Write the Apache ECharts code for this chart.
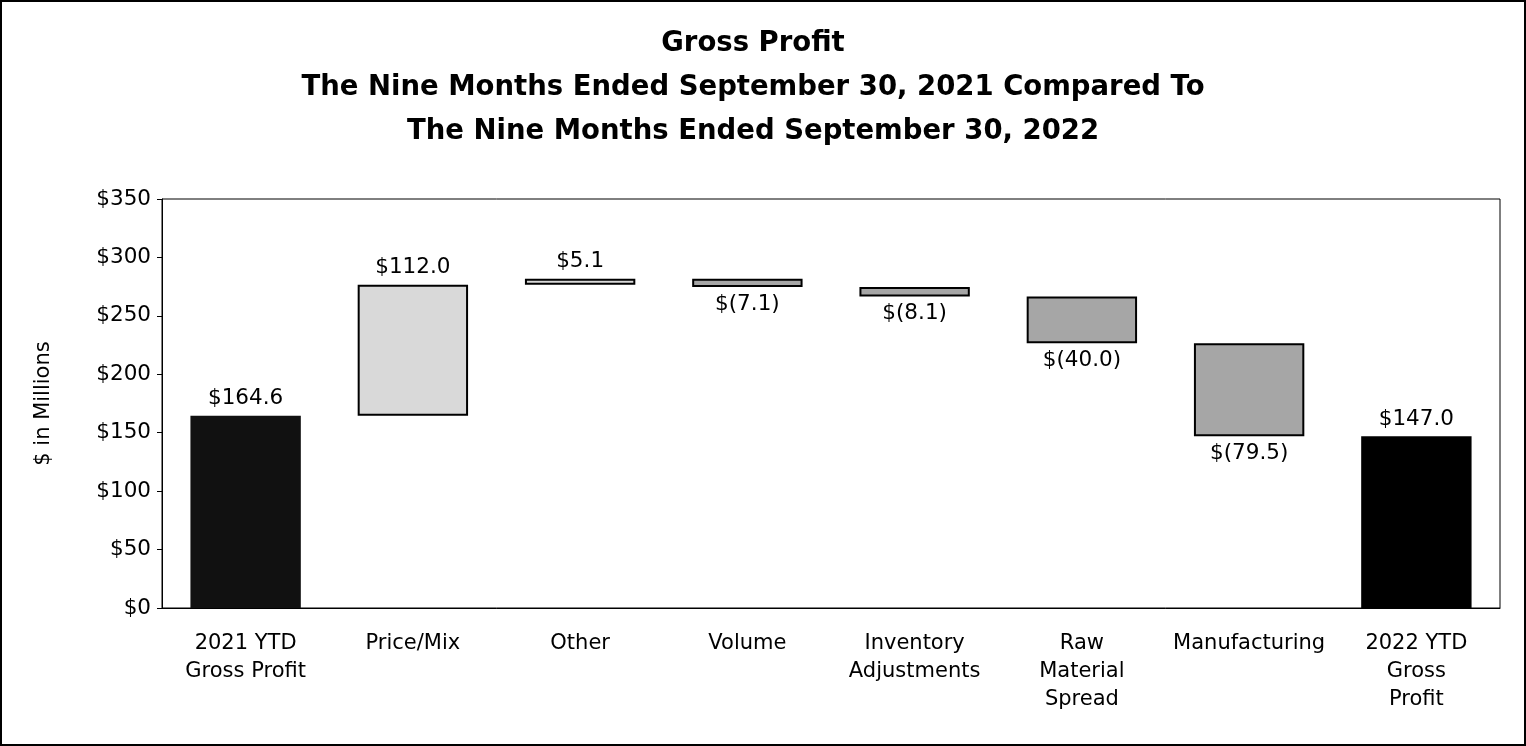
<!DOCTYPE html>
<html>
<head>
<meta charset="utf-8">
<script src="https://cdn.jsdelivr.net/npm/echarts@6/dist/echarts.min.js"></script>
<style>
html,body{margin:0;padding:0;background:#fff;}
#chart{width:1526px;height:746px;}
</style>
</head>
<body>
<div id="chart"></div>
<script>
const categories = ['2021 YTD\nGross Profit', 'Price/Mix', 'Other', 'Volume', 'Inventory\nAdjustments', 'Raw\nMaterial\nSpread', 'Manufacturing', '2022 YTD\nGross\nProfit'];
const startTotal = 164.6;
const deltas = [112.0, 5.1, -7.1, -8.1, -40.0, -79.5];
const endTotal = 147.0;
const yTicks = [0, 50, 100, 150, 200, 250, 300, 350];

const FONT = 'DejaVu Sans';
function fmt(v) {
  const a = Math.abs(v).toFixed(1);
  return v < 0 ? '$(' + a + ')' : '$' + a;
}

const baseData = [];
const visData = [];
baseData.push(0);
visData.push({value: startTotal, raw: startTotal, itemStyle: {color: '#111111', borderWidth: 0}, label: {position: 'top'}});
let running = startTotal;
deltas.forEach(d => {
  const lo = d >= 0 ? running : running + d;
  baseData.push(lo);
  visData.push({
    value: Math.abs(d), raw: d,
    itemStyle: {color: d >= 0 ? '#d9d9d9' : '#a6a6a6', borderColor: '#000', borderWidth: 2},
    label: {position: d >= 0 ? 'top' : 'bottom'}
  });
  running += d;
});
baseData.push(0);
visData.push({value: endTotal, raw: endTotal, itemStyle: {color: '#000000', borderWidth: 0}, label: {position: 'top'}});

const chart = echarts.init(document.getElementById('chart'), null, {renderer: 'canvas'});
chart.setOption({
  animation: false,
  backgroundColor: '#fff',
  title: {
    text: 'Gross Profit\nThe Nine Months Ended September 30, 2021 Compared To\nThe Nine Months Ended September 30, 2022',
    left: 748, textAlign: 'center', top: 17,
    textStyle: {fontFamily: FONT, fontSize: 27.5, fontWeight: 'bold', color: '#000', lineHeight: 44}
  },
  graphic: [{
    type: 'rect', silent: true,
    shape: {x: 1, y: 1, width: 1524, height: 744},
    style: {fill: 'none', stroke: '#000', lineWidth: 2}
  }],
  grid: {left: 162, right: 26, top: 199, bottom: 138, show: true, borderColor: '#000', borderWidth: 1, backgroundColor: 'transparent'},
  xAxis: {
    type: 'category', data: categories,
    axisLine: {lineStyle: {color: '#000', width: 1}},
    axisTick: {show: false},
    axisLabel: {fontFamily: FONT, fontSize: 21, color: '#000', lineHeight: 28, margin: 22, interval: 0}
  },
  yAxis: {
    type: 'value', min: yTicks[0], max: yTicks[yTicks.length - 1], interval: 50,
    name: '$ in Millions', nameLocation: 'middle', nameGap: 108, nameRotate: 90,
    nameTextStyle: {fontFamily: FONT, fontSize: 21, color: '#000'},
    axisLine: {show: true, lineStyle: {color: '#000', width: 1}},
    axisTick: {show: true, length: 5, lineStyle: {color: '#000'}},
    splitLine: {show: false},
    axisLabel: {fontFamily: FONT, fontSize: 21.5, color: '#000', margin: 11, formatter: v => '$' + v}
  },
  series: [
    {type: 'bar', stack: 'w', data: baseData, itemStyle: {color: 'transparent'}, barWidth: '66%', silent: true},
    {type: 'bar', stack: 'w', data: visData, barWidth: '66%',
     label: {show: true, fontFamily: FONT, fontSize: 21.5, color: '#000', distance: 6,
       formatter: p => fmt(p.data.raw)}}
  ]
});
</script>
</body>
</html>
